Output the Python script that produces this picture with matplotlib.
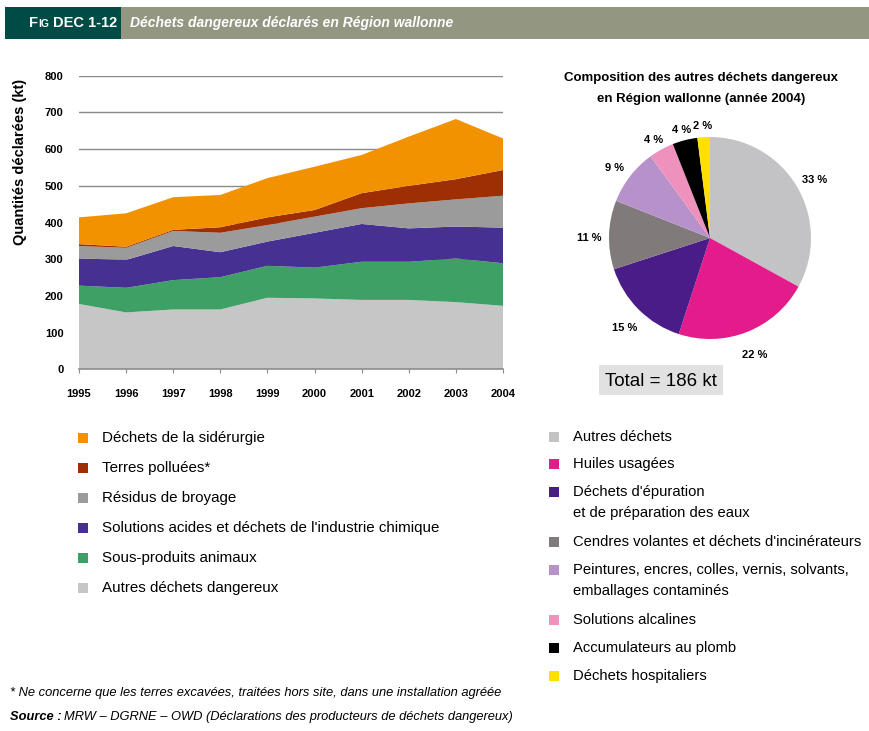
import matplotlib
matplotlib.use("Agg")
import matplotlib.pyplot as plt
from matplotlib import font_manager as fm
from matplotlib.patches import Rectangle
import numpy as np

names = {f.name for f in fm.fontManager.ttflist}
COND = 'Liberation Sans Narrow' if 'Liberation Sans Narrow' in names else 'Liberation Sans'
plt.rcParams['font.family'] = [COND, 'DejaVu Sans']

# ---------------- data ----------------
years = [1995, 1996, 1997, 1998, 1999, 2000, 2001, 2002, 2003, 2004]
autres_dangereux = [178, 155, 163, 163, 195, 193, 189, 189, 183, 173]
sous_produits = [50, 67, 80, 88, 87, 84, 104, 104, 119, 116]
solutions_acides = [74, 76, 93, 68, 66, 95, 103, 91, 87, 97]
residus_broyage = [34, 33, 41, 53, 45, 44, 43, 68, 74, 87]
terres_polluees = [5, 3, 3, 15, 21, 18, 41, 48, 55, 70]
siderurgie = [73, 91, 89, 88, 107, 118, 104, 134, 164, 86]

area_labels = ["Déchets de la sidérurgie", "Terres polluées*", "Résidus de broyage",
               "Solutions acides et déchets de l'industrie chimique",
               "Sous-produits animaux", "Autres déchets dangereux"]
area_colors = ["#f39200", "#9e2f05", "#9b9b9b", "#463092", "#3fa066", "#c6c6c6"]

pie_labels = ["Autres déchets", "Huiles usagées",
              "Déchets d'épuration\net de préparation des eaux",
              "Cendres volantes et déchets d'incinérateurs",
              "Peintures, encres, colles, vernis, solvants,\nemballages contaminés",
              "Solutions alcalines", "Accumulateurs au plomb", "Déchets hospitaliers"]
pie_values = [33, 22, 15, 11, 9, 4, 4, 2]
pie_colors = ["#c3c3c5", "#e41b8b", "#4a1c88", "#807a7a", "#b791c9", "#ee92bd", "#000000", "#ffe000"]

yticks = [0, 100, 200, 300, 400, 500, 600, 700, 800]

W, H = 870, 731
fig = plt.figure(figsize=(W / 100, H / 100), dpi=100)
renderer = fig.canvas.get_renderer()

def fx(px):
    return px / W

def fy(py):
    return 1 - py / H

def after(t, gap_px):
    bb = t.get_window_extent(renderer=renderer)
    return (bb.x1 + gap_px) / W

# ---------------- header ----------------
fig.patches.append(Rectangle((fx(5), fy(39)), fx(116), 32 / H, transform=fig.transFigure,
                             facecolor="#004b45", edgecolor="none"))
fig.patches.append(Rectangle((fx(121), fy(39)), fx(749), 32 / H, transform=fig.transFigure,
                             facecolor="#939681", edgecolor="none"))
t1 = fig.text(fx(29), fy(23), "F", color="white", fontsize=10.5, fontweight="bold", va="center")
t2 = fig.text(after(t1, 0.5), fy(24), "IG", color="white", fontsize=7.5, fontweight="bold", va="center")
fig.text(after(t2, 4), fy(23), "DEC 1-12", color="white", fontsize=10.5, fontweight="bold", va="center")
fig.text(fx(130), fy(23), "Déchets dangereux déclarés en Région wallonne", color="white",
         fontsize=10, fontweight="bold", style="italic", va="center")

# ---------------- stacked area ----------------
ax = fig.add_axes([fx(79), fy(369.3), fx(424), 293.6 / H])
stack = [autres_dangereux, sous_produits, solutions_acides, residus_broyage, terres_polluees, siderurgie]
ax.stackplot(years, *stack, colors=area_colors[::-1], linewidth=0, zorder=2)
ax.set_xlim(1995, 2004)
ax.set_ylim(0, 800)
ax.set_yticks(yticks)
ax.set_xticks(years)
ax.grid(axis="y", color="#8a8a8a", linewidth=1.0, zorder=0)
ax.set_axisbelow(True)
for s in ["top", "right", "left"]:
    ax.spines[s].set_visible(False)
ax.spines["bottom"].set_color("#8c8c8c")
ax.spines["bottom"].set_linewidth(1.2)
ax.tick_params(axis="y", length=0, pad=11, labelsize=8)
ax.tick_params(axis="x", length=3, color="#8c8c8c", pad=11, labelsize=8)
for lab in ax.get_xticklabels() + ax.get_yticklabels():
    lab.set_fontweight("bold")
ax.set_ylabel("Quantités déclarées (kt)", fontsize=10.5, fontweight="bold")
ax.yaxis.set_label_coords((27 - 79) / 424, (369.3 - 162) / 293.6)

# ---------------- pie ----------------
fig.text(fx(701), fy(78), "Composition des autres déchets dangereux", ha="center", va="center",
         fontsize=9.5, fontweight="bold")
fig.text(fx(701), fy(99), "en Région wallonne (année 2004)", ha="center", va="center",
         fontsize=9.5, fontweight="bold")
R = 101
pax = fig.add_axes([fx(710 - R * 1.4), fy(238 + R * 1.4), fx(2 * R * 1.4), 2 * R * 1.4 / H])
wedges, _ = pax.pie(pie_values, colors=pie_colors, startangle=90, counterclock=False,
                    radius=1.0, wedgeprops=dict(linewidth=0))
pax.set_xlim(-1.4, 1.4)
pax.set_ylim(-1.4, 1.4)
pax.set_aspect("equal")
pax.axis("off")
for w, v in zip(wedges, pie_values):
    ang = np.deg2rad((w.theta1 + w.theta2) / 2)
    r = 1.2 if v > 5 else 1.15
    pax.text(r * np.cos(ang), r * np.sin(ang) - 0.04, f"{v} %", ha="center", va="center",
             fontsize=8, fontweight="bold")

fig.patches.append(Rectangle((fx(599), fy(395)), fx(124), 30 / H, transform=fig.transFigure,
                             facecolor="#e1e1e1", edgecolor="none"))
fig.text(fx(661), fy(381), "Total = 186 kt", ha="center", va="center", fontsize=13.5)

# ---------------- legends ----------------
left_rows = [438, 468, 498, 528, 558, 588]
for lab, col, y in zip(area_labels, area_colors, left_rows):
    fig.patches.append(Rectangle((fx(78), fy(y + 5)), fx(10), 10 / H, transform=fig.transFigure,
                                 facecolor=col, edgecolor="none"))
    fig.text(fx(102), fy(y), lab, va="center", fontsize=10.9)

right_rows = [437, 464, 492, 542, 570, 620, 648, 676]
for lab, col, y in zip(pie_labels, pie_colors, right_rows):
    fig.patches.append(Rectangle((fx(549), fy(y + 5)), fx(10), 10 / H, transform=fig.transFigure,
                                 facecolor=col, edgecolor="none"))
    fig.text(fx(573), fy(y - 7), lab, va="top", fontsize=10.6, linespacing=1.6)

# ---------------- footnotes ----------------
fig.text(fx(10), fy(693), "* Ne concerne que les terres excavées, traitées hors site, dans une installation agréée",
         fontsize=9.3, style="italic", va="center")
ts = fig.text(fx(10), fy(717), "Source :", fontsize=9.3, style="italic", fontweight="bold", va="center")
fig.text(after(ts, 3), fy(717), "MRW – DGRNE – OWD (Déclarations des producteurs de déchets dangereux)",
         fontsize=9.3, style="italic", va="center")

fig.savefig("out.png", dpi=100)
